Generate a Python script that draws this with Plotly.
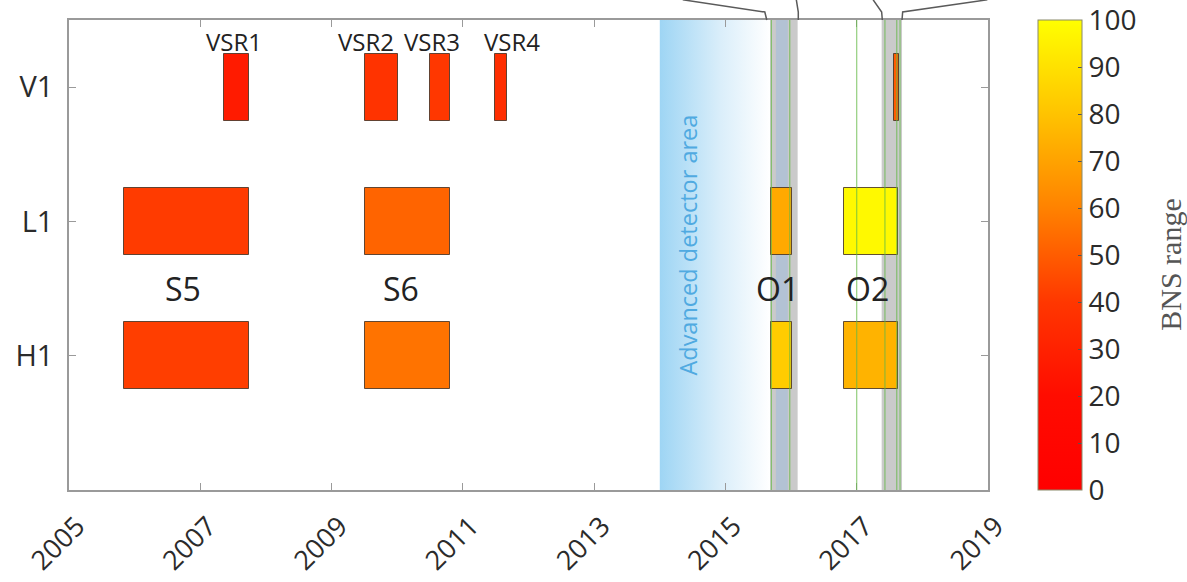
import plotly.graph_objects as go

# ---------------- data ----------------
detectors = ["H1", "L1", "V1"]
detector_pos = [1, 2, 3]

run_detector = ["L1", "H1", "L1", "H1", "V1", "V1", "V1", "V1", "L1", "H1", "L1", "H1", "V1"]
run_start = [2005.84, 2005.84, 2009.51, 2009.51, 2007.36, 2009.51, 2010.50, 2011.49,
             2015.70, 2015.70, 2016.81, 2016.81, 2017.57]
run_end = [2007.74, 2007.74, 2010.80, 2010.80, 2007.74, 2010.01, 2010.80, 2011.67,
           2016.01, 2016.01, 2017.63, 2017.63, 2017.65]
run_range = [41, 42, 52, 56, 27, 38, 40, 36, 72, 83, 98, 75, 50]

run_labels = ["S5", "S6", "O1", "O2"]
run_label_x = [2006.74, 2010.05, 2015.80, 2017.17]
run_label_y = [1.5, 1.5, 1.5, 1.5]

vsr_labels = ["VSR1", "VSR2", "VSR3", "VSR4"]
vsr_label_x = [2007.51, 2009.52, 2010.53, 2011.75]
vsr_label_y = [3.34, 3.34, 3.34, 3.34]

adv_start = 2014.0
adv_end = 2015.68

band_start = [2015.62, 2017.38]
band_end = [2016.10, 2017.69]
blue_start = [2015.77]
blue_end = [2015.95]
event_dates = [2015.70, 2015.98, 2017.00, 2017.43, 2017.61, 2017.66]

# connector lines to the (cropped) inset above: x positions at top, kink, frame
conn_top_x = [2014.35, 2016.08, 2017.25, 2018.99]
conn_kink_x = [2015.60, 2016.11, 2017.38, 2017.70]
conn_base_x = [2015.63, 2016.11, 2017.39, 2017.69]

colorbar_ticks = [0, 10, 20, 30, 40, 50, 60, 70, 80, 90, 100]
year_ticks = [2005, 2007, 2009, 2011, 2013, 2015, 2017, 2019]

# ---------------- figure ----------------
FONT = "Open Sans"
TXT = "#2b2b2b"
pos_of = dict(zip(detectors, detector_pos))

fig = go.Figure()

# Advanced detector area gradient
fig.add_trace(go.Scatter(
    x=[adv_start, adv_end, adv_end, adv_start, adv_start],
    y=[0, 0, 3.5, 3.5, 0],
    mode="lines", line=dict(width=0), fill="toself",
    fillgradient=dict(type="horizontal",
                      colorscale=[[0, "rgb(158,213,244)"], [0.55, "rgb(218,238,250)"], [1, "rgba(255,255,255,1)"]]),
    hoverinfo="skip", showlegend=False,
))

colorscale = [
    [0.0, "rgb(255,0,0)"],
    [0.2, "rgb(255,12,0)"],
    [0.4, "rgb(255,55,0)"],
    [0.6, "rgb(255,130,0)"],
    [0.8, "rgb(255,195,0)"],
    [1.0, "rgb(255,255,0)"],
]

fig.add_trace(go.Bar(
    orientation="h",
    y=[pos_of[d] for d in run_detector],
    base=run_start,
    x=[e - s for s, e in zip(run_start, run_end)],
    width=0.5,
    marker=dict(
        color=run_range, colorscale=colorscale, cmin=0, cmax=100.02, showscale=True,
        line=dict(color="rgba(70,50,35,0.85)", width=1),
        colorbar=dict(
            x=1.0544, xanchor="left", xref="paper", y=0.5, yanchor="middle",
            len=1, lenmode="fraction", thickness=44, thicknessmode="pixels",
            xpad=0, ypad=0,
            outlinecolor="#8a8a6a", outlinewidth=1,
            tickvals=colorbar_ticks, ticks="inside", ticklen=4, tickcolor="#555",
            ticklabeloverflow="allow",
            tickfont=dict(family=FONT, size=28, color=TXT),
        ),
    ),
    hoverinfo="skip", showlegend=False,
))

shapes = []
for s, e in zip(band_start, band_end):
    shapes.append(dict(type="rect", xref="x", yref="paper", x0=s, x1=e, y0=0, y1=1,
                       fillcolor="rgba(150,150,150,0.5)", line=dict(width=0), layer="below"))
for s, e in zip(blue_start, blue_end):
    shapes.append(dict(type="rect", xref="x", yref="paper", x0=s, x1=e, y0=0, y1=1,
                       fillcolor="rgba(150,185,225,0.45)", line=dict(width=0), layer="below"))
for d in event_dates:
    shapes.append(dict(type="line", xref="x", yref="paper", x0=d, x1=d, y0=0, y1=1,
                       line=dict(color="rgba(100,185,70,0.7)", width=1.2), layer="above"))
for xt, xk, xb in zip(conn_top_x, conn_kink_x, conn_base_x):
    shapes.append(dict(type="path", xref="x", yref="paper",
                       path=f"M {xt},1.043 L {xk},1.017 L {xb},1.0",
                       line=dict(color="#5a5a5a", width=1.5)))

annotations = []
for t, x, y in zip(run_labels, run_label_x, run_label_y):
    annotations.append(dict(text=t, x=x, y=y, xref="x", yref="y", showarrow=False,
                            font=dict(family=FONT, size=32, color="#222")))
for t, x, y in zip(vsr_labels, vsr_label_x, vsr_label_y):
    annotations.append(dict(text=t, x=x, y=y, xref="x", yref="y", showarrow=False,
                            font=dict(family=FONT, size=24, color="#222")))
annotations.append(dict(text="Advanced detector area", x=2014.43, y=1.82, xref="x", yref="y",
                        showarrow=False, textangle=-90,
                        font=dict(family=FONT, size=23.5, color="rgb(80,170,225)")))
# colorbar title
annotations.append(dict(text="BNS range", x=1.199, y=0.479, xref="paper", yref="paper",
                        showarrow=False, textangle=-90, xanchor="center", yanchor="middle",
                        font=dict(family="Liberation Serif", size=30, color="#555")))

axis_common = dict(showgrid=False, zeroline=False, showline=True, linecolor="#9a9a9a",
                   linewidth=1.5, mirror="ticks", ticks="inside", ticklen=7,
                   tickcolor="#9a9a9a", automargin=False)

fig.update_layout(
    width=1187, height=582,
    margin=dict(l=69, r=199, t=20, b=92),
    paper_bgcolor="white", plot_bgcolor="white",
    xaxis=dict(range=[2005, 2019], tickvals=year_ticks, tickangle=-45,
               tickfont=dict(family=FONT, size=27, color=TXT),
               ticklabelshift=8, ticklabelstandoff=8, **axis_common),
    yaxis=dict(range=[0, 3.5], tickvals=detector_pos, ticktext=detectors,
               tickfont=dict(family=FONT, size=29, color=TXT), ticklabelstandoff=8,
               **axis_common),
    shapes=shapes, annotations=annotations,
    bargap=0,
)

fig.write_html("out.html", config={"displayModeBar": False},
               post_script="document.body.style.margin='0px';")
